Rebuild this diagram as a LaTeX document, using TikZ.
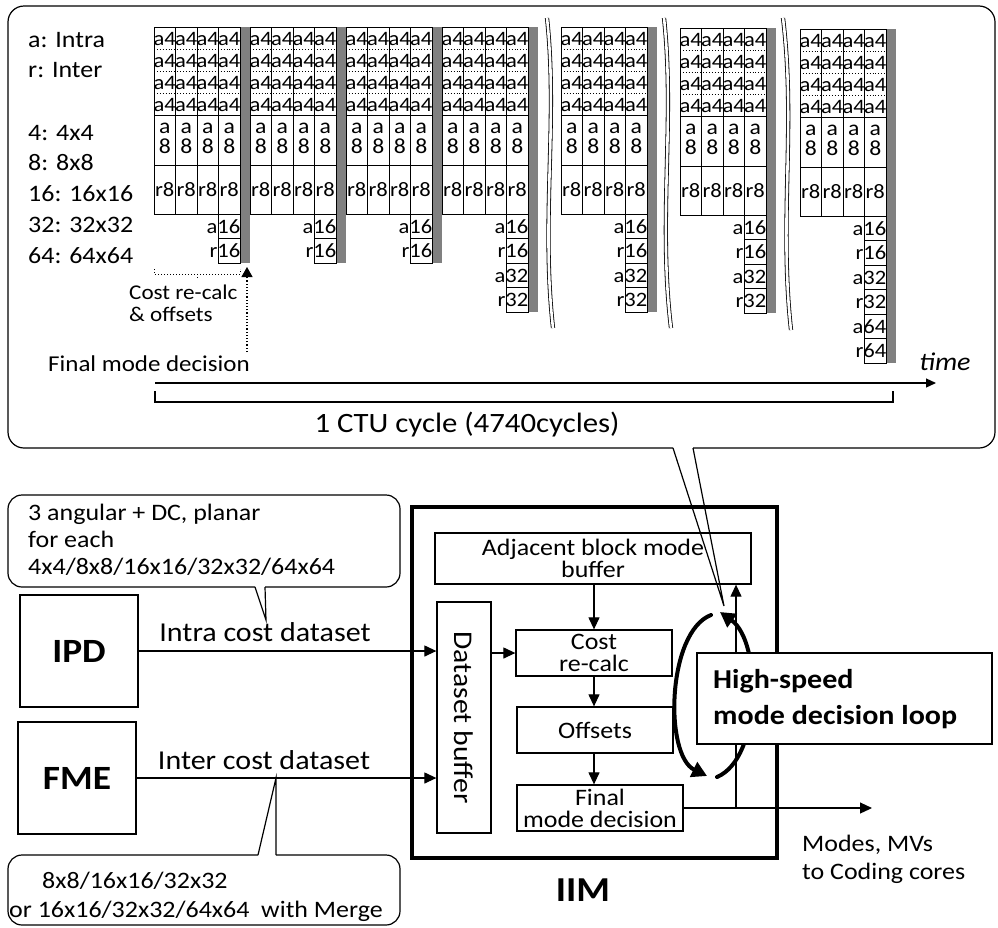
\documentclass[tikz,border=0pt]{standalone}
\usepackage{fontspec}
\setmainfont{Carlito}[FakeStretch=1.1]
\usetikzlibrary{arrows.meta}

\definecolor{barg}{HTML}{808080}
\newcommand\pxsize[2]{\fontsize{#1pt}{#2pt}\selectfont}

\tikzset{
  thinline/.style={line width=1.2},
  box/.style={draw, line width=1.3, inner sep=0, align=center},
  cellrule/.style={line width=0.9},
  celltext/.style={inner sep=0, font=\pxsize{20.5}{18}},
  lbl/.style={inner sep=0, font=\pxsize{23.6}{22}},
  arr/.style={line width=1.2, -{Triangle[length=12,width=11]}},
  loopbow/.style={line width=4, line cap=round, -{Triangle[length=15,width=16]}},
  breakline/.style={double, double distance=2.6, line width=0.8},
}

% One block of mode evaluations: name, left, top, sizes of the tail cells, bar height
\newcommand\ctublocks[5]{%
\begin{scope}[shift={(#2,#3)}]
  \fill[barg] (86,0) rectangle (96,#5);
  \coordinate (#1-end) at (91,#5);
  \foreach \c in {0,1,2,3}{
    \foreach \r in {0,1,2,3}
      \node[celltext] (#1-a4-\c-\r) at ({21.5*\c+10.75},{22*\r+11.5}) {a4};
    \node[celltext, font=\pxsize{21.5}{18}] (#1-a8a-\c) at ({21.5*\c+10.75},101) {a};
    \node[celltext, font=\pxsize{21.5}{18}] (#1-a8b-\c) at ({21.5*\c+10.75},119) {8};
    \node[celltext] (#1-r8-\c) at ({21.5*\c+10.75},162.5) {r8};
  }
  \foreach \r in {1,2,3}
    \draw[cellrule, dotted] (0,{22*\r}) -- (86,{22*\r});
  \draw[cellrule] (0,0) rectangle (86,187);
  \foreach \c in {1,2,3}
    \draw[cellrule] ({21.5*\c},0) -- ({21.5*\c},187);
  \draw[cellrule] (0,88) -- (86,88) (0,138) -- (86,138);
  \foreach \s [count=\k from 0] in {#4}{
    \draw[cellrule] (64.5,{187+49*\k}) rectangle (86,{211.5+49*\k});
    \draw[cellrule] (64.5,{211.5+49*\k}) rectangle (86,{236+49*\k});
    \node[celltext, anchor=east] (#1-a\s) at (86.5,{199.5+49*\k}) {a\s};
    \node[celltext, anchor=east] (#1-r\s) at (86.5,{224+49*\k}) {r\s};
  }
\end{scope}}

\begin{document}
\begin{tikzpicture}[x=1pt,y=-1pt]
\useasboundingbox (0,0) rectangle (998,927);

% ---------------- timing panel ----------------
\draw[thinline, rounded corners=16] (673,448) -- (8,448) -- (8,6) -- (995,6) -- (995,448) -- (693,448);

\node[lbl, anchor=west] (legA)  at (28,40)  {a: Intra};
\node[lbl, anchor=west] (legR)  at (28,70)  {r: Inter};
\node[lbl, anchor=west] (leg4)  at (28,133) {4: 4x4};
\node[lbl, anchor=west] (leg8)  at (28,163) {8: 8x8};
\node[lbl, anchor=west] (leg16) at (28,194) {16: 16x16};
\node[lbl, anchor=west] (leg32) at (28,225) {32: 32x32};
\node[lbl, anchor=west] (leg64) at (28,256) {64: 64x64};

\ctublocks{g1}{154}{27}{16}{236}
\ctublocks{g2}{250}{27}{16}{236}
\ctublocks{g3}{346}{27}{16}{236}
\ctublocks{g4}{442}{27}{16,32}{285}
\ctublocks{g5}{561}{27}{16,32}{285}
\ctublocks{g6}{680}{28}{16,32}{285}
\ctublocks{g7}{800}{29}{16,32,64}{334}

% omitted stretches of time
\draw[breakline] (547,18) .. controls (558,120) and (541,220) .. (553,328);
\draw[breakline] (664,18) .. controls (675,120) and (658,220) .. (671,328);
\draw[breakline] (783,18) .. controls (796,125) and (779,220) .. (791,330);

% cost re-calc span and final decision marker
\draw[line width=1, dotted] (154,269) -- (154,274) -- (240,274) -- (240,269) (197,274) -- (197,279);
\node[anchor=west, inner sep=0, align=left, font=\pxsize{21}{22}] (crc) at (129,303) {Cost re-calc\\\& offsets};
\node[anchor=east, inner sep=0, font=\pxsize{22.7}{22}] (fmd) at (250,364) {Final mode decision};
\coordinate (fmdtop) at (247,352);
\draw[line width=1.2, dotted, -{Triangle[length=10,width=11]}, shorten >=4] (fmdtop) -- (fmdtop |- g1-end);

% time axis and CTU cycle bracket
\coordinate (tstart) at (155,383);
\coordinate (tend) at (936,383);
\draw[thinline, -{Triangle[length=10,width=9]}] (tstart) -- (tend);
\node[inner sep=0, font=\pxsize{25.5}{25}\itshape] (timelbl) at (945,362) {time};
\coordinate (cycA) at (155,391);
\coordinate (cycB) at (893,391);
\draw[thinline] (cycA) -- ++(0,11) -| (cycB);
\node[inner sep=0, font=\pxsize{28}{28}] (cyclbl) at (467,425) {1 CTU cycle (4740cycles)};

% ---------------- block diagram ----------------
% intra cost callout
\draw[thinline, rounded corners=14] (255,587) -- (8,587) -- (8,495) -- (400,495) -- (400,587) -- (265,587);
\draw[thinline] (255,587) -- (266,620) -- (265,587);
\node[lbl, anchor=west, align=left, font=\pxsize{23.6}{27}] (intranote) at (28,540)
  {3 angular + DC, planar\\for each\\4x4/8x8/16x16/32x32/64x64};

% inter cost callout
\draw[thinline, rounded corners=14] (258,855) -- (8,855) -- (8,925) -- (400,925) -- (400,855) -- (276,855);
\draw[thinline] (258,855) -- (276,778) -- (276,855);
\node[lbl, anchor=west] (internote1) at (42,881) {8x8/16x16/32x32};
\node[lbl, anchor=west] (internote2) at (9,911) {or 16x16/32x32/64x64~ with Merge};

% source units
\node[box, minimum width=118, minimum height=112, font=\pxsize{34}{34}\bfseries] (ipd) at (79,651) {IPD};
\node[box, minimum width=118, minimum height=112, font=\pxsize{34}{34}\bfseries] (fme) at (77,778) {FME};
\node[inner sep=0, font=\pxsize{27.3}{28}] (intralbl) at (265,632) {Intra cost dataset};
\node[inner sep=0, font=\pxsize{27.3}{28}] (interlbl) at (264,760) {Inter cost dataset};

% IIM
\node[draw, line width=4, minimum width=365, minimum height=351] (iim) at (594.5,682.5) {};
\node[inner sep=0, font=\pxsize{35}{35}\bfseries] (iimlbl) at (583,890) {IIM};

\node[box, minimum width=316, minimum height=51, font=\pxsize{23.6}{20}] (adj) at (593,558.5) {Adjacent block mode\\buffer};
\node[box, minimum width=54, minimum height=231] (dsb) at (464,717.5) {};
\node[inner sep=0, rotate=-90, font=\pxsize{27}{27}] (dsblbl) at (dsb.center) {Dataset buffer};
\node[box, minimum width=156, minimum height=46, font=\pxsize{23.6}{22}] (cost) at (594,653) {Cost\\re-calc};
\node[box, minimum width=156, minimum height=46, font=\pxsize{23.6}{22}] (offs) at (595,730) {Offsets};
\node[box, minimum width=166, minimum height=46, font=\pxsize{23.6}{22}] (fin) at (600,808) {Final\\mode decision};

\draw[arr] (ipd.east) -- (ipd.east -| dsb.west);
\draw[arr] (fme.east) -- (fme.east -| dsb.west);
\draw[arr] (dsb.east |- cost.west) -- (cost.west);
\draw[arr] (adj.south -| cost.north) -- (cost.north);
\draw[arr] (cost.south) -- (cost.south |- offs.north);
\draw[arr] (offs.south -| cost.south) -- (cost.south |- fin.north);
\coordinate (outend) at (872,808);
\draw[arr] (fin.east) -- (outend);
\coordinate (fb) at (736,808);
\draw[arr] (fb) -- (fb |- adj.south);

% decision loop
\draw[loopbow] (711,615) .. controls (667,632) and (664,755) .. (707,776);
\draw[loopbow] (717,777) .. controls (762,758) and (762,642) .. (720,612);

\node[box, fill=white, minimum width=295, minimum height=91] (hs) at (844.5,698.5) {};
\node[inner sep=0, anchor=west, align=left, font=\pxsize{27.3}{36}\bfseries] (hslbl) at (713,699) {High-speed\\mode decision loop};

\node[inner sep=0, anchor=west, align=left, font=\pxsize{23.6}{28}] (outlbl) at (802,859) {Modes, MVs\\to Coding cores};

% pointer from the timing panel to the loop
\coordinate (ptip) at (724,606);
\draw[thinline] (673,448) -- (ptip) -- (693,448);
\end{tikzpicture}
\end{document}
